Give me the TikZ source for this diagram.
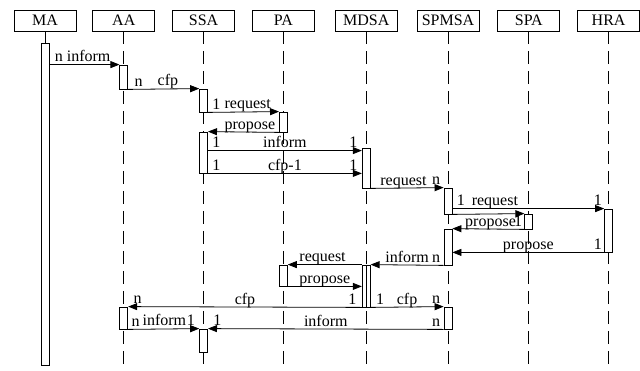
\documentclass[tikz,border=0pt]{standalone}
\usepackage{fontspec}
\setmainfont{Liberation Serif}
\usepackage{tikz}
\usetikzlibrary{arrows.meta,positioning}

\begin{document}
\begin{tikzpicture}[
    x=1pt, y=-1pt,
    font=\fontsize{16}{18}\selectfont,
    line width=0.8pt,
    head/.style={draw, rectangle, minimum width=62pt, minimum height=21pt, inner sep=0pt},
    act/.style={draw, rectangle, fill=white, minimum width=8pt, inner sep=0pt},
    life/.style={dash pattern=on 13pt off 7pt},
    msg/.style={-{Triangle[length=9pt,width=7pt]}},
    lbl/.style={inner sep=0pt, anchor=base, yshift=3pt},
    mr/.style={inner sep=0pt, anchor=base west, yshift=3pt},
    ml/.style={inner sep=0pt, anchor=base east, yshift=3pt}
]
\useasboundingbox (0,0) rectangle (640,370);

% lifeline heads
\node[head] (MA) at (45,20.5) {MA};
\node[head, right=16pt of MA] (AA) {AA};
\node[head, right=17pt of AA] (SSA) {SSA};
\node[head, right=17pt of SSA] (PA) {PA};
\node[head, right=20pt of PA] (MDSA) {MDSA};
\node[head, right=19pt of MDSA] (SPMSA) {SPMSA};
\node[head, right=18pt of SPMSA] (SPA) {SPA};
\node[head, right=17pt of SPA] (HRA) {HRA};

\coordinate (bot) at (0,370);
\draw[life] (MA.south) -- (MA |- bot);
\draw[life] (AA.south) -- (AA |- bot);
\draw[life] (SSA.south) -- (SSA |- bot);
\draw[life] (PA.south) -- (PA |- bot);
\draw[life] (MDSA.south) -- (MDSA |- bot);
\draw[life] (SPMSA.south) -- (SPMSA |- bot);
\draw[life] (SPA.south) -- (SPA |- bot);
\draw[life] (HRA.south) -- (HRA |- bot);

% activations
\node[act, minimum height=322pt] (maA) at (MA |- 0,204) {};
\node[act, minimum height=24pt] (aa1) at (AA |- 0,77) {};
\node[act, minimum height=23pt] (ssa1) at (SSA |- 0,100.5) {};
\node[act, minimum height=20pt] (pa1) at (PA |- 0,122) {};
\node[act, minimum height=41pt] (ssa2) at (SSA |- 0,152.5) {};
\node[act, minimum height=40pt] (mdsa1) at (MDSA |- 0,168) {};
\node[act, minimum height=26pt] (spmsa1) at (SPMSA |- 0,201) {};
\node[act, minimum height=43pt] (hra1) at (HRA |- 0,230.5) {};
\node[act, minimum height=15pt] (spa1) at (SPA |- 0,221.5) {};
\node[act, minimum height=36pt] (spmsa2) at (SPMSA |- 0,247) {};
\node[act, minimum height=42pt] (mdsa2) at (MDSA |- 0,286) {};
\node[act, minimum height=21pt] (pa2) at (PA |- 0,275.5) {};
\node[act, minimum height=22pt] (aa2) at (AA |- 0,318) {};
\node[act, minimum height=22pt] (spmsa3) at (SPMSA |- 0,318) {};
\node[act, minimum height=23pt] (ssa3) at (SSA |- 0,340.5) {};
\draw (mdsa2.north) -- (mdsa2.south);

% messages
\draw[msg] (maA.east |- aa1.north) -- node[lbl,pos=.56] {inform} node[mr,pos=0,xshift=5pt] {n} (aa1.north west);
\draw[msg] (aa1.south east) -- node[lbl,pos=.56] {cfp} node[mr,pos=0,xshift=6pt] {n} (ssa1.north west);
\draw[msg] (ssa1.south east) -- node[lbl,pos=.56] {request} node[mr,pos=0,xshift=4pt] {1} (pa1.north west);
\draw[msg] (pa1.south west) -- node[lbl,pos=.41] {propose} (ssa2.north east);
\coordinate (inf) at ([yshift=-3pt]mdsa1.north west);
\draw[msg] (ssa2.east |- inf) -- node[lbl] {inform} node[mr,pos=0,xshift=4pt] {1} node[ml,pos=1,xshift=-4pt] {1} (inf);
\draw[msg] (ssa2.south east) -- node[lbl] {cfp-1} node[mr,pos=0,xshift=4pt] {1} node[ml,pos=1,xshift=-4pt] {1} (mdsa1.west |- ssa2.south);
\draw[msg] (mdsa1.south east) -- node[lbl,pos=.45] {request} node[ml,pos=1,xshift=-3pt] {n} (spmsa1.north west);
\draw[msg] (spmsa1.east |- hra1.north) -- node[lbl,pos=.28] {request} node[mr,pos=0,xshift=4pt] {1} node[ml,pos=1,xshift=-2pt] {1} (hra1.north west);
\draw[msg] (spmsa1.south east) -- (spa1.north west);
\draw[msg] (spa1.south west) -- node[lbl,pos=.47] {propose} node[ml,pos=0,xshift=-2pt] {1} (spmsa2.north east);
\draw[msg] (hra1.south west) -- node[lbl] {propose} node[ml,pos=0,xshift=-2pt] {1} (spmsa2.east |- hra1.south);
\draw[msg] (spmsa2.south west) -- node[lbl] {inform} node[ml,pos=0,xshift=-3pt] {n} (mdsa2.north east);
\draw[msg] (mdsa2.north west) -- node[lbl,pos=.53] {request} (pa2.north east);
\draw[msg] (pa2.south east) -- node[lbl] {propose} (mdsa2.west |- pa2.south);
\draw[msg] (mdsa2.south west) -- node[lbl] {cfp} node[ml,pos=0,xshift=-5pt] {1} node[mr,pos=1,xshift=5pt] {n} (aa2.north east);
\draw[msg] (mdsa2.south east) -- node[lbl] {cfp} node[mr,pos=0,xshift=5pt] {1} node[ml,pos=1,xshift=-3pt] {n} (spmsa3.north west);
\draw[msg] (aa2.south east) -- node[lbl,pos=.51] {inform} node[mr,pos=0,xshift=3pt] {n} node[ml,pos=1,xshift=-4pt] {1} (ssa3.north west);
\draw[msg] (spmsa3.south west) -- node[lbl] {inform} node[ml,pos=0,xshift=-3pt] {n} node[mr,pos=1,xshift=5pt] {1} (ssa3.north east);

\end{tikzpicture}
\end{document}
